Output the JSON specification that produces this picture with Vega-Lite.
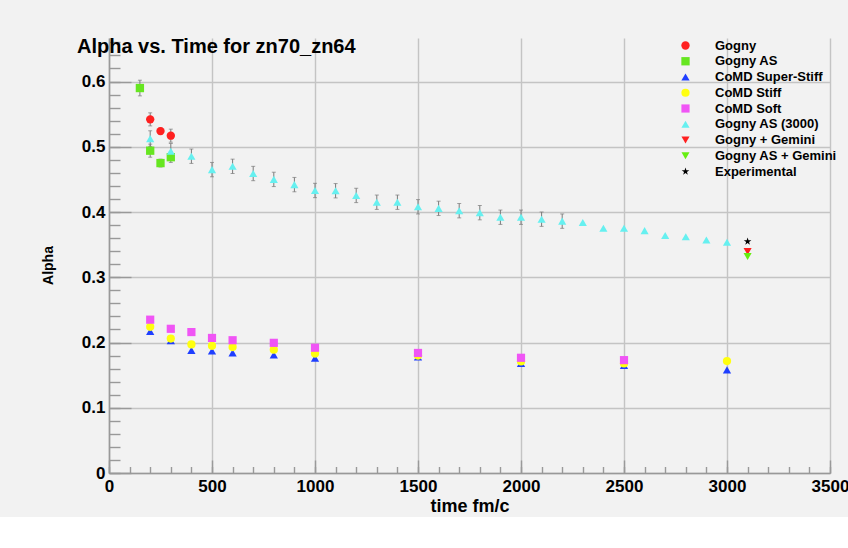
{
  "$schema": "https://vega.github.io/schema/vega-lite/v6.json",
  "width": 721,
  "height": 435,
  "autosize": {"type": "none"},
  "padding": {"left": 109, "top": 38, "right": 18, "bottom": 44},
  "background": "#f2f2f2",
  "title": {
    "text": "Alpha vs. Time for zn70_zn64",
    "anchor": "start",
    "frame": "group",
    "offset": 0,
    "dx": -32,
    "dy": 35,
    "baseline": "alphabetic",
    "font": "Liberation Sans",
    "fontSize": 20,
    "fontWeight": "bold",
    "color": "#000000"
  },
  "config": {
    "view": {"stroke": null},
    "font": "Liberation Sans",
    "axis": {
      "domainColor": "#999999",
      "domainWidth": 1.6,
      "tickColor": "#999999",
      "tickWidth": 1.4,
      "gridColor": "#c4c4c4",
      "gridWidth": 1.4,
      "labelFont": "Liberation Sans",
      "labelFontWeight": "bold",
      "labelColor": "#000000",
      "titleFont": "Liberation Sans",
      "titleFontWeight": "bold",
      "titleColor": "#000000"
    },
    "legend": {
      "labelFont": "Liberation Sans",
      "labelFontSize": 13,
      "labelFontWeight": "bold",
      "labelColor": "#000000",
      "labelOffset": 23,
      "rowPadding": 1.75,
      "symbolStrokeWidth": 0,
      "padding": 0,
      "labelLimit": 300
    }
  },
  "data": {
    "values": [
      {"s": "Gogny", "t": 200, "a": 0.542, "e": 0.01},
      {"s": "Gogny", "t": 250, "a": 0.524, "e": 0.005},
      {"s": "Gogny", "t": 300, "a": 0.517, "e": 0.01},
      {"s": "Gogny AS", "t": 150, "a": 0.590, "e": 0.012},
      {"s": "Gogny AS", "t": 200, "a": 0.494, "e": 0.01},
      {"s": "Gogny AS", "t": 250, "a": 0.475, "e": 0.006},
      {"s": "Gogny AS", "t": 300, "a": 0.484, "e": 0.008},
      {"s": "CoMD Super-Stiff", "t": 200, "a": 0.217},
      {"s": "CoMD Super-Stiff", "t": 300, "a": 0.203},
      {"s": "CoMD Super-Stiff", "t": 400, "a": 0.188},
      {"s": "CoMD Super-Stiff", "t": 500, "a": 0.187},
      {"s": "CoMD Super-Stiff", "t": 600, "a": 0.184},
      {"s": "CoMD Super-Stiff", "t": 800, "a": 0.181},
      {"s": "CoMD Super-Stiff", "t": 1000, "a": 0.176},
      {"s": "CoMD Super-Stiff", "t": 1500, "a": 0.178},
      {"s": "CoMD Super-Stiff", "t": 2000, "a": 0.168},
      {"s": "CoMD Super-Stiff", "t": 2500, "a": 0.165},
      {"s": "CoMD Super-Stiff", "t": 3000, "a": 0.158},
      {"s": "CoMD Stiff", "t": 200, "a": 0.224},
      {"s": "CoMD Stiff", "t": 300, "a": 0.206},
      {"s": "CoMD Stiff", "t": 400, "a": 0.197},
      {"s": "CoMD Stiff", "t": 500, "a": 0.195},
      {"s": "CoMD Stiff", "t": 600, "a": 0.193},
      {"s": "CoMD Stiff", "t": 800, "a": 0.189},
      {"s": "CoMD Stiff", "t": 1000, "a": 0.183},
      {"s": "CoMD Stiff", "t": 1500, "a": 0.180},
      {"s": "CoMD Stiff", "t": 2000, "a": 0.171},
      {"s": "CoMD Stiff", "t": 2500, "a": 0.168},
      {"s": "CoMD Stiff", "t": 3000, "a": 0.1715},
      {"s": "CoMD Soft", "t": 200, "a": 0.235},
      {"s": "CoMD Soft", "t": 300, "a": 0.221},
      {"s": "CoMD Soft", "t": 400, "a": 0.216},
      {"s": "CoMD Soft", "t": 500, "a": 0.207},
      {"s": "CoMD Soft", "t": 600, "a": 0.2035},
      {"s": "CoMD Soft", "t": 800, "a": 0.1995},
      {"s": "CoMD Soft", "t": 1000, "a": 0.192},
      {"s": "CoMD Soft", "t": 1500, "a": 0.184},
      {"s": "CoMD Soft", "t": 2000, "a": 0.1766},
      {"s": "CoMD Soft", "t": 2500, "a": 0.173},
      {"s": "Gogny AS (3000)", "t": 200, "a": 0.5125, "e": 0.012},
      {"s": "Gogny AS (3000)", "t": 300, "a": 0.493, "e": 0.012},
      {"s": "Gogny AS (3000)", "t": 400, "a": 0.4855, "e": 0.011},
      {"s": "Gogny AS (3000)", "t": 500, "a": 0.465, "e": 0.011},
      {"s": "Gogny AS (3000)", "t": 600, "a": 0.470, "e": 0.011},
      {"s": "Gogny AS (3000)", "t": 700, "a": 0.459, "e": 0.011},
      {"s": "Gogny AS (3000)", "t": 800, "a": 0.450, "e": 0.011},
      {"s": "Gogny AS (3000)", "t": 900, "a": 0.442, "e": 0.011},
      {"s": "Gogny AS (3000)", "t": 1000, "a": 0.433, "e": 0.011},
      {"s": "Gogny AS (3000)", "t": 1100, "a": 0.4326, "e": 0.011},
      {"s": "Gogny AS (3000)", "t": 1200, "a": 0.4254, "e": 0.011},
      {"s": "Gogny AS (3000)", "t": 1300, "a": 0.415, "e": 0.011},
      {"s": "Gogny AS (3000)", "t": 1400, "a": 0.415, "e": 0.011},
      {"s": "Gogny AS (3000)", "t": 1500, "a": 0.408, "e": 0.011},
      {"s": "Gogny AS (3000)", "t": 1600, "a": 0.4056, "e": 0.011},
      {"s": "Gogny AS (3000)", "t": 1700, "a": 0.402, "e": 0.011},
      {"s": "Gogny AS (3000)", "t": 1800, "a": 0.399, "e": 0.011},
      {"s": "Gogny AS (3000)", "t": 1900, "a": 0.392, "e": 0.011},
      {"s": "Gogny AS (3000)", "t": 2000, "a": 0.392, "e": 0.011},
      {"s": "Gogny AS (3000)", "t": 2100, "a": 0.389, "e": 0.011},
      {"s": "Gogny AS (3000)", "t": 2200, "a": 0.386, "e": 0.011},
      {"s": "Gogny AS (3000)", "t": 2300, "a": 0.384},
      {"s": "Gogny AS (3000)", "t": 2400, "a": 0.375},
      {"s": "Gogny AS (3000)", "t": 2500, "a": 0.375},
      {"s": "Gogny AS (3000)", "t": 2600, "a": 0.3715},
      {"s": "Gogny AS (3000)", "t": 2700, "a": 0.364},
      {"s": "Gogny AS (3000)", "t": 2800, "a": 0.362},
      {"s": "Gogny AS (3000)", "t": 2900, "a": 0.357},
      {"s": "Gogny AS (3000)", "t": 3000, "a": 0.3537},
      {"s": "Gogny + Gemini", "t": 3100, "a": 0.3394},
      {"s": "Gogny AS + Gemini", "t": 3100, "a": 0.3318},
      {"s": "Experimental", "t": 3100, "a": 0.3547}
    ]
  },
  "resolve": {"axis": {"x": "independent", "y": "independent"}},
  "layer": [
    {
      "transform": [{"filter": "datum.e > 0"}],
      "mark": {"type": "errorbar", "color": "#7a7a7a", "thickness": 1, "ticks": {"size": 4, "color": "#7a7a7a", "thickness": 1}},
      "encoding": {
        "x": {
          "field": "t", "type": "quantitative",
          "scale": {"domain": [0, 3500], "nice": false},
          "axis": {"orient": "bottom", "values": [0, 500, 1000, 1500, 2000, 2500, 3000, 3500], "tickSize": -13, "labels": false, "domain": false, "grid": false, "title": null}
        },
        "y": {
          "field": "a", "type": "quantitative",
          "scale": {"domain": [0, 0.6667], "nice": false, "zero": true},
          "axis": {"orient": "left", "values": [0, 0.1, 0.2, 0.3, 0.4, 0.5, 0.6], "tickSize": -22, "labels": false, "domain": false, "grid": false, "title": null}
        },
        "yError": {"field": "e"}
      }
    },
    {
      "mark": {"type": "point", "opacity": 0},
      "encoding": {
        "x": {
          "field": "t", "type": "quantitative",
          "scale": {"domain": [0, 3500], "nice": false},
          "axis": {"orient": "bottom", "values": [0, 100, 200, 300, 400, 500, 600, 700, 800, 900, 1000, 1100, 1200, 1300, 1400, 1500, 1600, 1700, 1800, 1900, 2000, 2100, 2200, 2300, 2400, 2500, 2600, 2700, 2800, 2900, 3000, 3100, 3200, 3300, 3400, 3500], "tickSize": -6.5, "labels": false, "domain": false, "grid": false, "title": null}
        },
        "y": {
          "field": "a", "type": "quantitative",
          "scale": {"domain": [0, 0.6667], "nice": false, "zero": true},
          "axis": {"orient": "left", "values": [0, 0.02, 0.04, 0.06, 0.08, 0.1, 0.12, 0.14, 0.16, 0.18, 0.2, 0.22, 0.24, 0.26, 0.28, 0.3, 0.32, 0.34, 0.36, 0.38, 0.4, 0.42, 0.44, 0.46, 0.48, 0.5, 0.52, 0.54, 0.56, 0.58, 0.6, 0.62, 0.64, 0.66], "tickSize": -11, "labels": false, "domain": false, "grid": false, "title": null}
        }
      }
    },
    {
      "mark": {"type": "point", "filled": true, "opacity": 1, "strokeWidth": 0},
      "encoding": {
        "x": {
          "field": "t", "type": "quantitative",
          "scale": {"domain": [0, 3500], "nice": false},
          "axis": {"orient": "bottom", "values": [0, 500, 1000, 1500, 2000, 2500, 3000, 3500], "format": "d", "ticks": false, "domain": true, "grid": true, "labelFontSize": 17, "labelPadding": 5, "labelFlush": false, "title": "time fm/c", "titleFontSize": 18, "titlePadding": 3}
        },
        "y": {
          "field": "a", "type": "quantitative",
          "scale": {"domain": [0, 0.6667], "nice": false, "zero": true},
          "axis": {"orient": "left", "values": [0, 0.1, 0.2, 0.3, 0.4, 0.5, 0.6], "format": "~g", "ticks": false, "domain": true, "grid": true, "labelFontSize": 17, "labelPadding": 4, "labelFlush": false, "title": "Alpha", "titleFontSize": 14, "titleX": -54, "titleY": 227}
        },
        "color": {
          "field": "s", "type": "nominal",
          "scale": {
            "domain": ["Gogny", "Gogny AS", "CoMD Super-Stiff", "CoMD Stiff", "CoMD Soft", "Gogny AS (3000)", "Gogny + Gemini", "Gogny AS + Gemini", "Experimental"],
            "range": ["#ff2020", "#66e620", "#1f3fff", "#ffff10", "#f055f5", "#66f0f0", "#ff2020", "#66ee10", "#000000"]
          },
          "legend": {"orient": "none", "legendX": 570, "legendY": 1, "title": null}
        },
        "shape": {
          "field": "s", "type": "nominal",
          "scale": {
            "domain": ["Gogny", "Gogny AS", "CoMD Super-Stiff", "CoMD Stiff", "CoMD Soft", "Gogny AS (3000)", "Gogny + Gemini", "Gogny AS + Gemini", "Experimental"],
            "range": ["circle", "square", "triangle-up", "circle", "square", "triangle-up", "triangle-down", "triangle-down", "M0,-1L0.224,-0.309L0.951,-0.309L0.363,0.118L0.588,0.809L0,0.382L-0.588,0.809L-0.363,0.118L-0.951,-0.309L-0.224,-0.309Z"]
          },
          "legend": {"orient": "none", "legendX": 570, "legendY": 1, "title": null}
        },
        "size": {
          "field": "s", "type": "nominal",
          "scale": {
            "domain": ["Gogny", "Gogny AS", "CoMD Super-Stiff", "CoMD Stiff", "CoMD Soft", "Gogny AS (3000)", "Gogny + Gemini", "Gogny AS + Gemini", "Experimental"],
            "range": [70, 64, 60, 60, 70, 55, 40, 40, 120]
          },
          "legend": {"orient": "none", "legendX": 570, "legendY": 1, "title": null}
        }
      }
    }
  ]
}
